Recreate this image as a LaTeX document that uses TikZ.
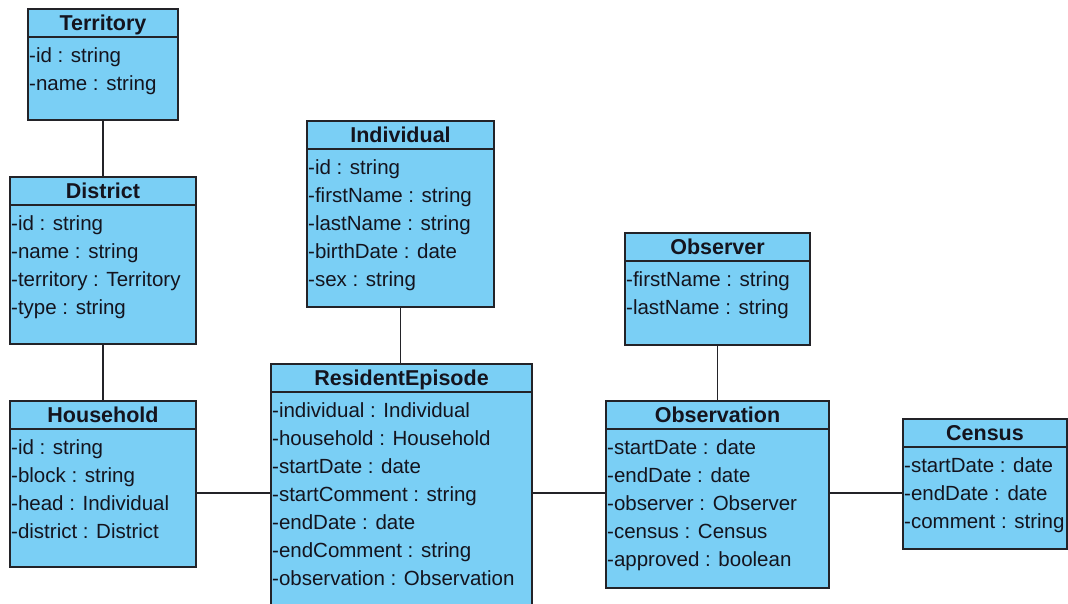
\documentclass[tikz,border=0pt]{standalone}
\usepackage{fontspec}
\setmainfont{Liberation Sans}
\definecolor{clsfill}{RGB}{122,207,245}
\definecolor{clsline}{RGB}{35,35,40}
\definecolor{txt}{RGB}{20,20,30}

% A UML class: name, left, top, right, bottom, title
\newcommand{\umlclass}[6]{%
  \node[clsbox, minimum width={#4-#2}, minimum height={#5-#3},
        anchor=north west] (#1) at (#2,#3) {};
  \draw[clsedge] (#2,{#3+28}) -- (#4,{#3+28});
  \node[clstitle] (#1-title) at ({(#2+#4)/2},{#3+21.5}) {#6};
}
% Attribute rows of a class: name, left, top, comma-separated list
\newcommand{\umlattrs}[4]{%
  \foreach \a [count=\i] in {#4} {
    \node[clsattr] (#1-a\i) at ({#2+1},{#3+53+28*(\i-1)}) {\a};
  }%
}

\begin{document}
\begin{tikzpicture}[x=1pt,y=-1pt,
  clsbox/.style={draw=clsline, fill=clsfill, line width=1.4pt,
                 inner sep=0pt, outer sep=0pt},
  clsedge/.style={draw=clsline, line width=1.4pt},
  clstitle/.style={anchor=base, inner sep=0pt, text=txt,
                   font=\fontsize{21.5}{26}\selectfont\bfseries},
  clsattr/.style={anchor=base west, inner sep=0pt, text=txt,
                  font=\fontsize{20.5}{24}\selectfont},
  conn/.style={draw=clsline, line width=1.4pt}]
\useasboundingbox (0,0) rectangle (1068,603);
\clip (0,0) rectangle (1068,603);
\fill[white] (0,0) rectangle (1068,603);

% classes
\umlclass{ter}{28}{9}{178}{120}{Territory}
\umlattrs{ter}{28}{9}{-id : string,-name : string}

\umlclass{dis}{10}{177}{196}{344}{District}
\umlattrs{dis}{10}{177}{-id : string,-name : string,-territory : Territory,-type : string}

\umlclass{hh}{10}{401}{196}{567}{Household}
\umlattrs{hh}{10}{401}{-id : string,-block : string,-head : Individual,-district : District}

\umlclass{ind}{307}{121}{494}{307}{Individual}
\umlattrs{ind}{307}{121}{-id : string,-firstName : string,-lastName : string,-birthDate : date,-sex : string}

\umlclass{re}{271}{364}{532}{620}{ResidentEpisode}
\umlattrs{re}{271}{364}{-individual : Individual,-household : Household,-startDate : date,-startComment : string,-endDate : date,-endComment : string,-observation : Observation}

\umlclass{obs}{625}{233}{810}{345}{Observer}
\umlattrs{obs}{625}{233}{-firstName : string,-lastName : string}

\umlclass{obn}{606}{401}{829}{588}{Observation}
\umlattrs{obn}{606}{401}{-startDate : date,-endDate : date,-observer : Observer,-census : Census,-approved : boolean}

\umlclass{cen}{903}{419}{1067}{549}{Census}
\umlattrs{cen}{903}{419}{-startDate : date,-endDate : date,-comment : string}

% associations
\coordinate (row) at (0,493);
\draw[conn] (ter.south) -- (dis.north);
\draw[conn] (dis.south) -- (hh.north);
\draw[conn] (ind.south) -- (ind.south |- re.north);
\draw[conn] (obs.south) -- (obn.north);
\draw[conn] (hh.east |- row) -- (re.west |- row);
\draw[conn] (re.east |- row) -- (obn.west |- row);
\draw[conn] (obn.east |- row) -- (cen.west |- row);
\end{tikzpicture}
\end{document}
